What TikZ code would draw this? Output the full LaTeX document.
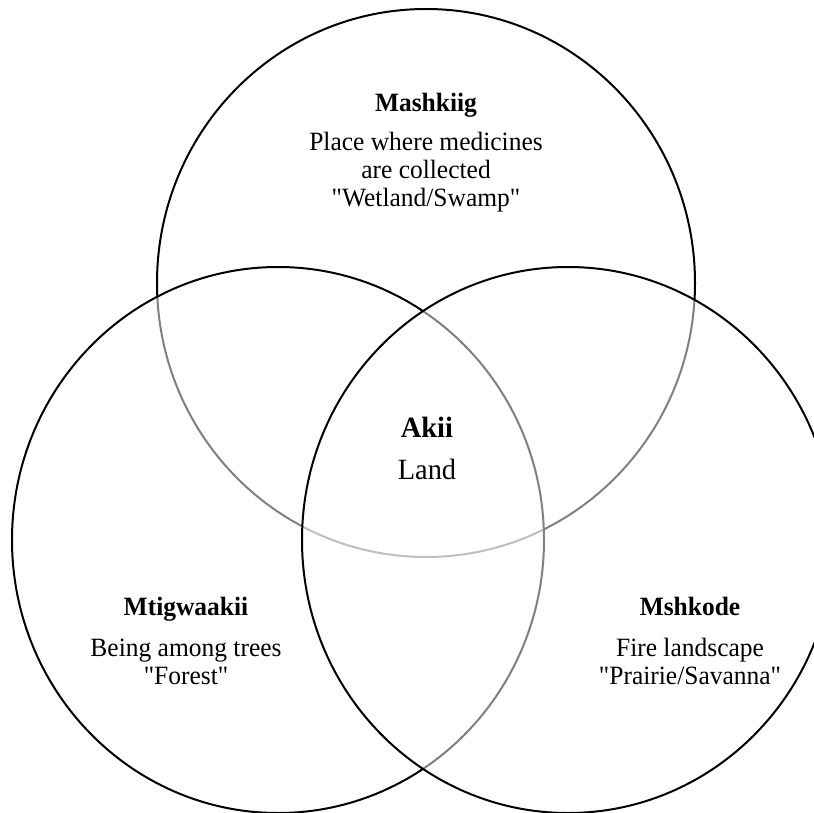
\documentclass[tikz,border=0pt]{standalone}
\usepackage{fontspec}
\setmainfont{Liberation Serif}[Ligatures=TeXOff,FakeStretch=0.965]
\begin{document}
\begin{tikzpicture}[x=1pt,y=-1pt,
  venn/.style={draw=black,line width=2pt,fill=white,fill opacity=0.5},
  txt/.style={anchor=base,inner sep=0pt,font=\fontsize{26.4}{28}\selectfont},
  ttl/.style={anchor=base,inner sep=0pt,font=\fontsize{26.4}{28}\selectfont\bfseries},
  ctxt/.style={anchor=base,inner sep=0pt,font=\fontsize{29.4}{32}\selectfont},
  cttl/.style={anchor=base,inner sep=0pt,font=\fontsize{29.4}{32}\selectfont\bfseries}]
\useasboundingbox (0,0) rectangle (814,813);
\fill[white] (0,0) rectangle (814,813);
\begin{scope}
\clip (0,0) rectangle (814,813);
\draw[venn] (426,283) ellipse [x radius=269pt, y radius=274pt];
\draw[venn] (278,540) ellipse [x radius=266pt, y radius=273pt];
\draw[venn] (568,540) ellipse [x radius=266pt, y radius=273pt];
\end{scope}
% top
\node[ttl] (t0) at (426,112) {Mashkiig};
\node[txt] (t1) at (426,151) {Place where medicines};
\node[txt] (t2) at (426,179) {are collected};
\node[txt] (t3) at (426,207) {"Wetland/Swamp"};
% center
\node[cttl] (c0) at (427,437) {Akii};
\node[ctxt] (c1) at (427,479) {Land};
% left
\node[ttl] (l0) at (186,615) {Mtigwaakii};
\node[txt] (l1) at (186,656) {Being among trees};
\node[txt] (l2) at (186,684) {"Forest"};
% right
\node[ttl] (r0) at (690,615) {Mshkode};
\node[txt] (r1) at (690,656) {Fire landscape};
\node[txt] (r2) at (690,684) {"Prairie/Savanna"};
\end{tikzpicture}
\end{document}
